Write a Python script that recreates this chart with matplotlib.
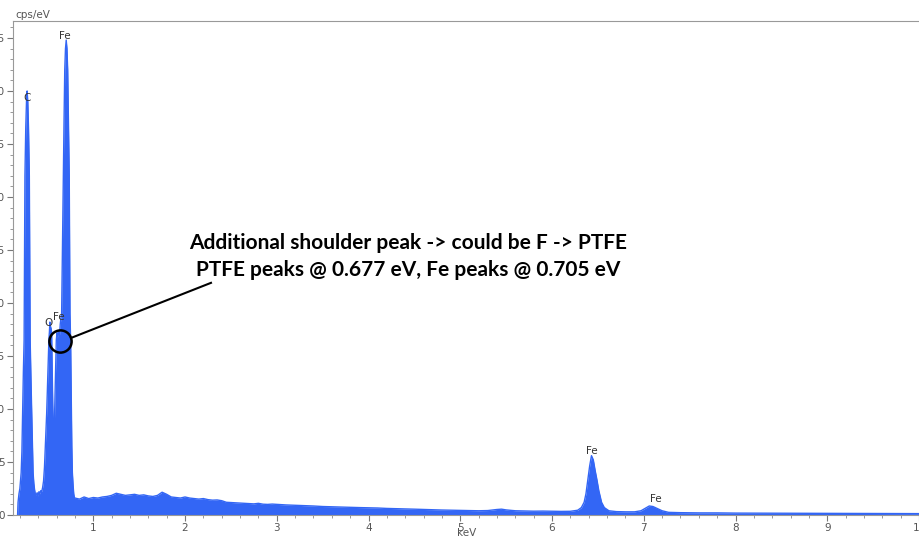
import matplotlib
matplotlib.use("Agg")
import matplotlib.pyplot as plt
from matplotlib.ticker import MultipleLocator

# ---- data ----
peak_kev = [0.175, 0.180, 0.190, 0.200, 0.214, 0.222, 0.230, 0.238, 0.246, 0.255,
            0.264, 0.272, 0.279, 0.286, 0.294, 0.303, 0.312, 0.320, 0.328, 0.336,
            0.344, 0.352, 0.360, 0.368, 0.378, 0.388, 0.398, 0.408, 0.418, 0.428,
            0.438, 0.448, 0.458, 0.468, 0.480, 0.492, 0.502, 0.510, 0.516, 0.522,
            0.527, 0.533, 0.540, 0.546, 0.552, 0.558, 0.564, 0.571, 0.577, 0.583,
            0.590, 0.597, 0.605, 0.615, 0.625, 0.633, 0.640, 0.648, 0.655, 0.664,
            0.672, 0.681, 0.689, 0.697, 0.705, 0.713, 0.721, 0.729, 0.738, 0.746,
            0.753, 0.758, 0.762, 0.766, 0.772, 0.780, 0.787, 0.795]
peak_cps = [0.0, 1.2, 2.0, 2.5, 4.0, 6.0, 10.0, 13.5, 16.5, 32.0,
            36.5, 39.0, 40.0, 39.0, 36.5, 32.0, 16.5, 13.0, 10.0, 7.0,
            4.0, 3.0, 2.4, 2.0, 1.9, 2.1, 1.8, 2.2, 2.0, 2.3,
            2.2, 2.6, 3.2, 4.5, 7.0, 9.6, 12.5, 15.0, 16.5, 17.3,
            18.2, 17.8, 17.6, 17.2, 13.5, 10.5, 8.5, 7.1, 9.0, 11.5,
            14.0, 16.5, 17.2, 16.8, 17.3, 17.0, 18.0, 18.6, 19.0, 25.5,
            32.0, 37.0, 42.0, 44.0, 44.8, 44.0, 42.0, 37.0, 32.0, 19.0,
            16.5, 12.5, 9.5, 6.5, 4.0, 2.8, 2.0, 1.6]

bg_kev = [0.80, 0.85, 0.90, 0.95, 1.00, 1.05, 1.10, 1.15, 1.20, 1.25,
          1.30, 1.35, 1.40, 1.45, 1.50, 1.55, 1.60, 1.65, 1.70, 1.75,
          1.80, 1.85, 1.90, 1.95, 2.00, 2.05, 2.10, 2.15, 2.20, 2.25,
          2.30, 2.35, 2.40, 2.45, 2.50, 2.55, 2.60, 2.65, 2.70, 2.75,
          2.80, 2.85, 2.90, 2.95, 3.00, 3.10, 3.20, 3.30, 3.40, 3.50,
          3.60, 3.70, 3.80, 3.90, 4.00, 4.10, 4.20, 4.30, 4.40, 4.50,
          4.60, 4.70, 4.80, 4.90, 5.00, 5.10, 5.20, 5.30, 5.40, 5.45,
          5.50, 5.60, 5.70, 5.80, 5.90, 6.00, 6.10]
bg_cps = [1.60, 1.50, 1.70, 1.55, 1.65, 1.60, 1.70, 1.75, 1.85, 2.05,
          1.95, 1.85, 1.90, 1.95, 1.85, 1.90, 1.80, 1.75, 1.85, 2.15,
          1.95, 1.70, 1.65, 1.60, 1.70, 1.60, 1.55, 1.50, 1.55, 1.45,
          1.40, 1.42, 1.35, 1.20, 1.18, 1.15, 1.12, 1.10, 1.08, 1.05,
          1.10, 1.02, 1.00, 1.03, 1.00, 0.95, 0.92, 0.88, 0.85, 0.80,
          0.78, 0.75, 0.72, 0.70, 0.68, 0.66, 0.62, 0.60, 0.57, 0.55,
          0.52, 0.50, 0.47, 0.45, 0.43, 0.42, 0.40, 0.42, 0.52, 0.55,
          0.48, 0.40, 0.38, 0.36, 0.37, 0.35, 0.34]

feka_kev = [6.20, 6.28, 6.32, 6.35, 6.37, 6.39, 6.41, 6.43, 6.45, 6.47,
            6.49, 6.51, 6.54, 6.57, 6.62, 6.70, 6.80]
feka_cps = [0.35, 0.45, 0.70, 1.20, 2.00, 3.30, 4.60, 5.60, 5.20, 4.20,
            3.30, 2.30, 1.20, 0.70, 0.40, 0.32, 0.30]

fekb_kev = [6.90, 6.97, 7.02, 7.06, 7.10, 7.15, 7.20, 7.27]
fekb_cps = [0.30, 0.40, 0.65, 0.85, 0.80, 0.60, 0.40, 0.25]

tail_kev = [7.40, 7.60, 7.80, 8.00, 8.50, 9.00, 9.50, 10.00]
tail_cps = [0.22, 0.20, 0.20, 0.18, 0.17, 0.15, 0.14, 0.13]

peak_labels = ["C", "Fe", "O", "Fe", "Fe", "Fe"]
label_kev = [0.279, 0.69, 0.517, 0.622, 6.43, 7.127]
label_cps = [39.3, 45.2, 18.1, 18.7, 6.05, 1.5]

note_lines = ["Additional shoulder peak -> could be F -> PTFE",
              "PTFE peaks @ 0.677 eV, Fe peaks @ 0.705 eV"]

# ---- build spectrum ----
kev = peak_kev + bg_kev + feka_kev + fekb_kev + tail_kev
cps = peak_cps + bg_cps + feka_cps + fekb_cps + tail_cps

W, H = 919, 538
fig = plt.figure(figsize=(W / 100, H / 100), dpi=100)
ax = fig.add_axes([13 / W, 1 - 515 / H, 1 - 13 / W, (515 - 21) / H])

blue = "#3366f5"
ax.fill_between(kev, 0, cps, color=blue, linewidth=0)
ax.plot(kev, cps, color=blue, linewidth=1.0)

ax.set_xlim(0.125, 10.0)
ax.set_ylim(0, 46.6)

ax.xaxis.set_major_locator(MultipleLocator(1))
ax.xaxis.set_minor_locator(MultipleLocator(0.2))
ax.yaxis.set_major_locator(MultipleLocator(5))
ax.yaxis.set_minor_locator(MultipleLocator(1))
ax.set_xticks([1, 2, 3, 4, 5, 6, 7, 8, 9, 10])
ax.set_xticklabels(["1", "2", "3", "4", "5", "6", "7", "8", "9", "10"])

gray = "#555555"
ax.tick_params(axis="both", which="major", length=4, width=0.8, color="#777777",
               labelsize=7.5, labelcolor=gray, pad=2)
ax.tick_params(axis="both", which="minor", length=2.5, width=0.6, color="#888888")
for s in ["left", "bottom", "top"]:
    ax.spines[s].set_color("#999999")
    ax.spines[s].set_linewidth(0.8)
ax.spines["right"].set_visible(False)

fig.text(15 / W, 1 - 15 / H, "cps/eV", fontsize=7.5, color=gray, ha="left", va="center")
fig.text(467 / W, 1 - 533 / H, "keV", fontsize=7.5, color=gray, ha="center", va="center")

for t, x, y in zip(peak_labels, label_kev, label_cps):
    ax.text(x, y, t, fontsize=7.5, color="#333333", ha="center", va="center")

# annotation circle and line
ax.plot([0.636], [16.4], marker="o", markersize=16, markerfacecolor="none",
        markeredgecolor="black", markeredgewidth=1.8, clip_on=False)
ax.plot([0.757, 2.283], [16.7, 21.9], color="black", linewidth=1.5)

ax.text(4.43, 25.7, note_lines[0], fontsize=15, fontweight="bold",
        family=["Lato", "DejaVu Sans"], ha="center", va="center", color="black")
ax.text(4.43, 23.1, note_lines[1], fontsize=15, fontweight="bold",
        family=["Lato", "DejaVu Sans"], ha="center", va="center", color="black")

fig.savefig("out.png", dpi=100)
